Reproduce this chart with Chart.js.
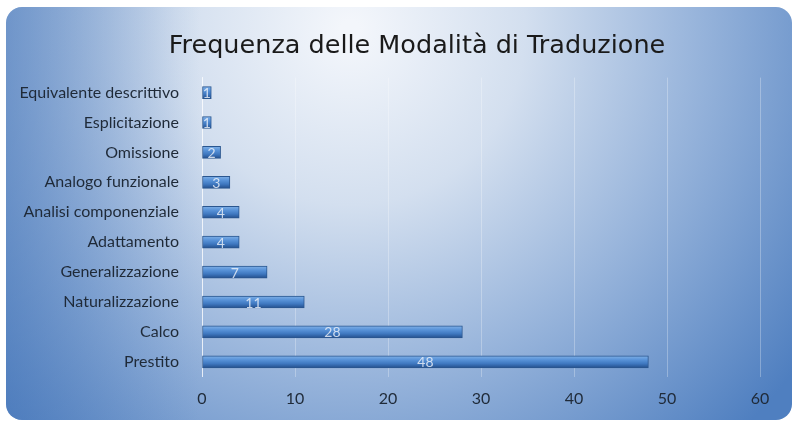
<!DOCTYPE html>
<html>
<head>
<meta charset="utf-8">
<script src="https://cdn.jsdelivr.net/npm/chart.js@4/dist/chart.umd.min.js"></script>
<style>
  html, body { margin: 0; padding: 0; background: #ffffff; }
  #wrap { width: 800px; height: 423px; }
</style>
</head>
<body>
<div id="wrap"><canvas id="modalita"></canvas></div>
<script>
const categories = ['Equivalente descrittivo', 'Esplicitazione', 'Omissione', 'Analogo funzionale',
  'Analisi componenziale', 'Adattamento', 'Generalizzazione', 'Naturalizzazione', 'Calco', 'Prestito'];
const frequenze = [1, 1, 2, 3, 4, 4, 7, 11, 28, 48];
const xTicks = [0, 10, 20, 30, 40, 50, 60];

// rounded blue panel behind everything
const panelBg = {
  id: 'panelBg',
  beforeDraw(chart) {
    const c = chart.ctx;
    const x = 6, y = 7, w = 786, h = 413, r = 16;
    c.save();
    c.beginPath();
    c.roundRect(x, y, w, h, r);
    const g = c.createRadialGradient(350, 30, 10, 350, 30, 560);
    g.addColorStop(0, '#f3f6fb');
    g.addColorStop(0.3, '#d3dfef');
    g.addColorStop(0.6, '#9ab6dc');
    g.addColorStop(1, '#4f7fc0');
    c.fillStyle = g;
    c.fill();
    // darken the left side a little
    const g2 = c.createLinearGradient(x, 0, 200, 0);
    g2.addColorStop(0, 'rgba(60,110,180,0.45)');
    g2.addColorStop(1, 'rgba(60,110,180,0)');
    c.fillStyle = g2;
    c.fill();
    c.restore();
  }
};

// value labels in the middle of each bar
const valueLabels = {
  id: 'valueLabels',
  afterDatasetsDraw(chart) {
    const c = chart.ctx;
    const meta = chart.getDatasetMeta(0);
    c.save();
    c.font = '14px Lato, "Open Sans", sans-serif';
    c.fillStyle = 'rgba(240,244,250,0.8)';
    c.textAlign = 'center';
    c.textBaseline = 'middle';
    meta.data.forEach((bar, i) => {
      const mid = (bar.x + bar.base) / 2;
      c.fillText(String(frequenze[i]), mid, bar.y + 1);
    });
    c.restore();
  }
};

const barFill = (context) => {
  const chart = context.chart;
  const y = chart.scales.y;
  if (!chart.chartArea || !y) return '#4a86d0';
  const cy = y.getPixelForValue(context.dataIndex);
  const g = chart.ctx.createLinearGradient(0, cy - 6, 0, cy + 6);
  g.addColorStop(0, '#80b0e6');
  g.addColorStop(0.3, '#5b95da');
  g.addColorStop(0.65, '#3f78c0');
  g.addColorStop(1, '#244f8c');
  return g;
};

const chart = new Chart(document.getElementById('modalita'), {
  type: 'bar',
  data: {
    labels: categories,
    datasets: [{
      label: 'Frequenza',
      data: frequenze,
      backgroundColor: barFill,
      borderColor: '#2a568f',
      borderWidth: 1,
      borderSkipped: false,
      barThickness: 12
    }]
  },
  options: {
    indexAxis: 'y',
    responsive: true,
    maintainAspectRatio: false,
    animation: false,
    layout: { padding: { left: 14, right: -20, top: 0, bottom: 3 } },
    scales: {
      x: {
        min: 0,
        max: 60,
        afterFit: (s) => { s.paddingRight = 40; },
        afterBuildTicks: (s) => { s.ticks = xTicks.map(v => ({ value: v })); },
        grid: { color: 'rgba(255,255,255,0.28)', drawTicks: false },
        border: { display: false },
        ticks: { color: '#1f2a38', padding: 12, font: { size: 16, family: 'Lato, "Open Sans", sans-serif' } }
      },
      y: {
        afterFit: (s) => { s.width = 188; },
        grid: { display: false },
        border: { color: 'rgba(255,255,255,0.7)', width: 1 },
        ticks: { color: '#1f2a38', padding: 15, font: { size: 16, family: 'Lato, "Open Sans", sans-serif' } }
      }
    },
    plugins: {
      legend: { display: false },
      tooltip: { enabled: false },
      title: {
        display: true,
        text: 'Frequenza delle Modalità di Traduzione',
        color: '#1a1a1a',
        font: { size: 25.5, weight: 'normal', family: '"DejaVu Sans", sans-serif' },
        padding: { top: 31, bottom: 16 }
      }
    }
  },
  plugins: [panelBg, valueLabels]
});
</script>
</body>
</html>
